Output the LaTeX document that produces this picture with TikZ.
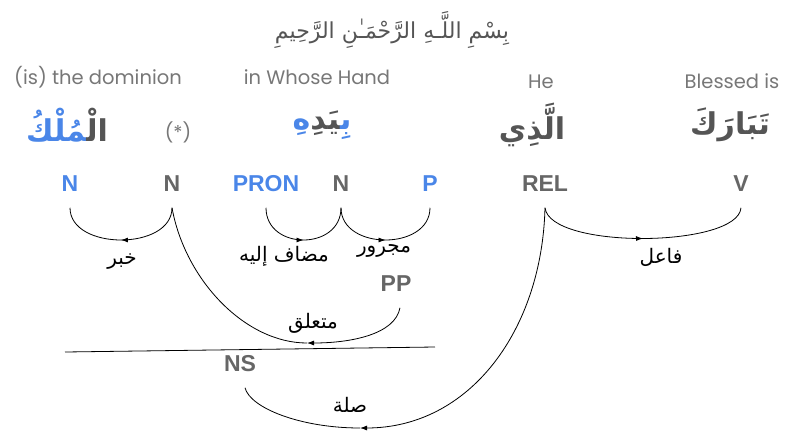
\documentclass[tikz,border=0pt]{standalone}
\usepackage{fontspec}
\usetikzlibrary{arrows.meta,decorations.markings}
\TeXXeTstate=1
\newfontfamily\glossfont{Poppins}
\newfontfamily\posfont{Liberation Sans}
\newfontfamily\arabicfont[Script=Arabic]{DejaVu Sans}
\definecolor{wblue}{HTML}{4A86E8}
\definecolor{wgrey}{HTML}{666666}
\definecolor{agrey}{HTML}{555555}
\definecolor{ggrey}{HTML}{777777}
\begin{document}
\begin{tikzpicture}[x=1pt,y=-1pt,
  gloss/.style={font=\glossfont\fontsize{19.5}{22}\selectfont, text=ggrey, anchor=base, inner sep=0pt},
  postag/.style={font=\posfont\bfseries\fontsize{23}{26}\selectfont, inner sep=0pt, text height=16.5pt, text depth=0pt, outer ysep=16.5pt},
  aword/.style={font=\arabicfont\bfseries\fontsize{30}{34}\selectfont, inner sep=0pt},
  alabel/.style={font=\arabicfont\fontsize{20}{22}\selectfont, inner sep=0pt, text=black},
  relarc/.style={line width=0.8pt, black},
  midarrow/.style={postaction={decorate},decoration={markings,mark=at position 0.5 with {\arrow{Latex[length=7pt,width=5pt]}}}},
  tipend/.style={-{Latex[length=7pt,width=5pt]}}
]
\useasboundingbox (0,0) rectangle (788,432);
% title
\node[font=\arabicfont\fontsize{22}{26}\selectfont, text=agrey, inner sep=0pt] (title) at (392,30) {\beginR بِسْمِ اللَّـهِ الرَّحْمَـٰنِ الرَّحِيمِ\endR};
% glosses
\node[gloss] (g1) at (98,84) {(is) the dominion};
\node[gloss] (g2) at (317,84) {in Whose Hand};
\node[gloss] (g3) at (541,88) {He};
\node[gloss] (g4) at (732,88) {Blessed is};
% arabic words
\node[aword] (w1) at (67,125) {{\color{wblue}^^^^200dمُلْكُ}{\color{agrey}الْ^^^^200d}};
\node[font=\glossfont\fontsize{19}{22}\selectfont, text=ggrey, inner sep=0pt] (star) at (178,132) {(*)};
\node[aword] (w2) at (322,125) {{\color{wblue}هِ}{\color{agrey}^^^^200dيَدِ}{\color{wblue}بِ^^^^200d}};
\node[aword, text=agrey] (w3) at (532,125) {الَّذِي};
\node[aword, text=agrey] (w4) at (730,125) {تَبَارَكَ};
% POS tags
\node[postag,text=wblue] (n1) at (70,183) {N};
\node[postag,text=wgrey] (n2) at (172,183) {N};
\node[postag,text=wblue] (pron) at (266,183) {PRON};
\node[postag,text=wgrey] (n3) at (341,183) {N};
\node[postag,text=wblue] (p) at (430,183) {P};
\node[postag,text=wgrey] (rel) at (545,183) {REL};
\node[postag,text=wgrey] (v) at (741,183) {V};
\node[postag,text=wgrey] (pp) at (396,283) {PP};
\node[postag,text=wgrey] (ns) at (240,363) {NS};
% arcs
\draw[relarc,midarrow] (n2.south) .. controls +(0,43) and +(0,43) .. (n1.south);
\draw[relarc,midarrow] (pron.south) .. controls +(0,43) and +(0,43) .. (n3.south);
\draw[relarc,midarrow] (n3.south) .. controls +(0,43) and +(0,43) .. (p.south);
\draw[relarc,midarrow] (rel.south) .. controls +(5,42) and +(-3,40) .. (v.south);
\coordinate (m1) at (307,343);
\draw[relarc,tipend] ([xshift=4pt]pp.south) .. controls +(-5,27) and +(43,0) .. (m1);
\draw[relarc] (m1) .. controls +(-62,0) and +(13,72) .. (n2.south);
\coordinate (lL) at (65,352);
\coordinate (lR) at (435,347);
\draw[relarc] (lL) -- (lR);
\coordinate (m2) at (360,428);
\draw[relarc,tipend] (rel.south) .. controls +(-3,122) and +(110,0) .. (m2);
\draw[relarc] (m2) .. controls +(-60,0) and +(5,20) .. ([xshift=5pt]ns.south);
% relation labels
\node[alabel] (l1) at (122,262) {خبر};
\node[alabel] (l2) at (284,256) {\beginR مضاف إليه\endR};
\node[alabel] (l3) at (384,251) {مجرور};
\node[alabel] (l4) at (313,323) {متعلق};
\node[alabel] (l5) at (350,405) {صلة};
\node[alabel] (l6) at (661,257) {فاعل};
\end{tikzpicture}
\end{document}
